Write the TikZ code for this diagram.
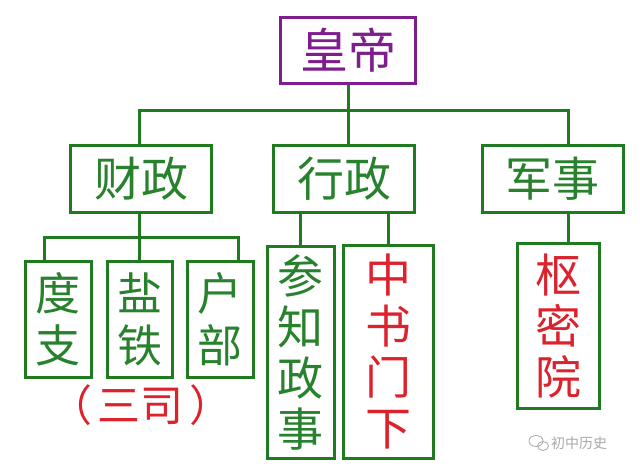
\documentclass[tikz,border=0pt]{standalone}
\usepackage{fontspec}
\newfontfamily\cjk{Noto Sans CJK SC}
\definecolor{boxgreen}{RGB}{32,122,32}
\definecolor{txtgreen}{RGB}{40,130,45}
\definecolor{txtred}{RGB}{220,35,45}
\definecolor{boxpurple}{RGB}{125,30,140}
\definecolor{wmgray}{RGB}{170,170,170}
\begin{document}
\begin{tikzpicture}[x=1pt,y=1pt,
  basebox/.style={draw=boxgreen,line width=3pt,inner sep=0pt,align=center},
  topbox/.style={basebox,draw=boxpurple,minimum width=135pt,minimum height=66pt,text=boxpurple,font=\cjk\fontsize{48}{52}\selectfont},
  midbox/.style={basebox,minimum width=141pt,minimum height=67pt,text=txtgreen,font=\cjk\fontsize{47}{52}\selectfont},
  vbox/.style={basebox,font=\cjk\fontsize{45}{52}\selectfont},
  tallfont/.style={font=\cjk\fontsize{46}{51}\selectfont},
  conn/.style={draw=boxgreen,line width=3pt},
  wm/.style={text=wmgray,font=\cjk\fontsize{14}{16}\selectfont,inner sep=0pt}]
\useasboundingbox (0,0) rectangle (640,-471);
\fill[white] (0,0) rectangle (640,-471);
% boxes
\node[topbox] (hd) at (348,-50.5) {皇帝};
\node[midbox] (fz) at (141,-178.5) {财政};
\node[midbox] (xz) at (344,-178.5) {行政};
\node[midbox] (js) at (552.5,-178.5) {军事};
\node[vbox,minimum width=66pt,minimum height=116pt,text=txtgreen] (dz) at (58,-319) {度\\支};
\node[vbox,minimum width=65pt,minimum height=116pt,text=txtgreen] (yt) at (139.5,-319) {盐\\铁};
\node[vbox,minimum width=66pt,minimum height=116pt,text=txtgreen] (hb) at (220,-319) {户\\部};
\node[vbox,tallfont,minimum width=67pt,minimum height=212pt,text=txtgreen] (cz) at (300.5,-352) {参\\知\\政\\事};
\node[vbox,tallfont,minimum width=90pt,minimum height=213pt,text=txtred] (zs) at (388,-351.5) {中\\书\\门\\下};
\node[vbox,tallfont,minimum width=82pt,minimum height=165pt,text=txtred] (sm) at (558,-325.5) {枢\\密\\院};
\node[text=txtred,font=\cjk\fontsize{43}{46}\selectfont,inner sep=0pt] (sans) at (141,-405) {（\hspace{6pt}三司\hspace{6pt}）};
% connectors
\coordinate (tl) at (139,-110);
\coordinate (tr) at (568,-110);
\draw[conn] (hd.south) -- (hd.south|-tl);
\draw[conn] (tl|-fz.north) -- (tl) -- (tr) -- (tr|-js.north);
\draw[conn] (xz.north-|hd.south) -- (hd.south|-tl);
\coordinate (fl) at (44,-237);
\coordinate (fr) at (238,-237);
\draw[conn] (fz.south-|tl) -- (tl|-fl);
\draw[conn] (fl|-dz.north) -- (fl) -- (fr) -- (fr|-hb.north);
\draw[conn] (tl|-fl) -- (tl|-yt.north);
\draw[conn] (cz.north) -- (cz.north|-xz.south);
\draw[conn] (zs.north) -- (zs.north|-xz.south);
\draw[conn] (tr|-js.south) -- (tr|-sm.north);
% watermark
\node[wm,anchor=west] (wmt) at (551,-443) {初中历史};
\draw[wmgray,line width=0.8pt] (536,-441) ellipse (7pt and 5.5pt);
\draw[wmgray,line width=0.8pt] (543,-446) ellipse (5.5pt and 4.5pt);
\end{tikzpicture}
\end{document}
